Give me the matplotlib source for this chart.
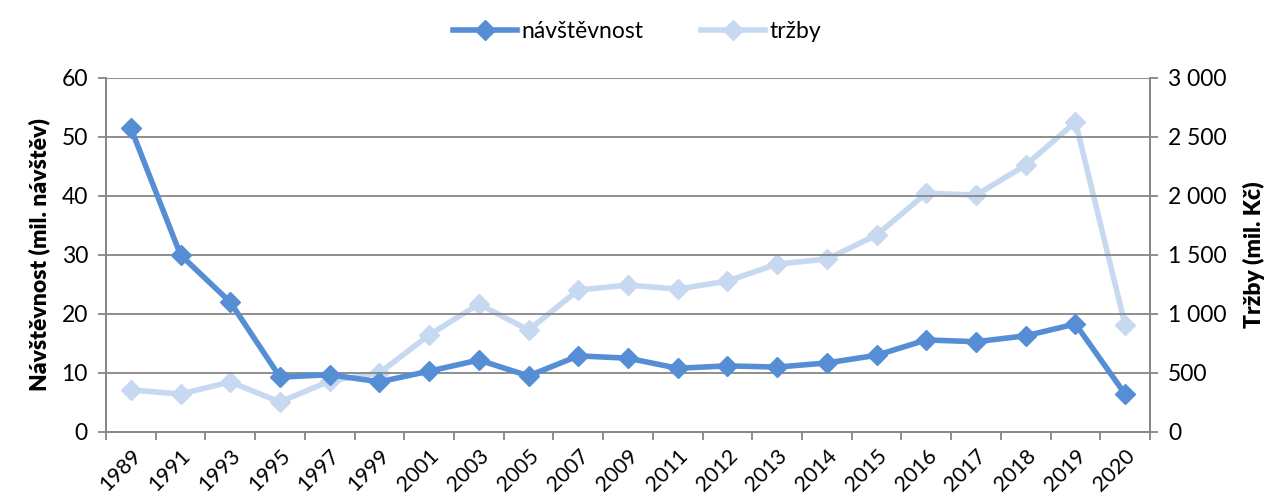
import matplotlib
matplotlib.use("Agg")
import matplotlib.pyplot as plt
from matplotlib.ticker import FuncFormatter, FixedLocator
import numpy as np

years = ["1989", "1991", "1993", "1995", "1997", "1999", "2001", "2003", "2005", "2007",
         "2009", "2011", "2012", "2013", "2014", "2015", "2016", "2017", "2018", "2019", "2020"]
navstevnost = [51.5, 30.0, 22.0, 9.3, 9.7, 8.5, 10.3, 12.2, 9.5, 12.9,
               12.5, 10.8, 11.2, 11.0, 11.7, 13.0, 15.6, 15.3, 16.3, 18.3, 6.4]
trzby = [356, 322, 424, 254, 432, 500, 822, 1084, 864, 1203,
         1245, 1211, 1279, 1423, 1465, 1669, 2024, 2007, 2262, 2626, 906]

plt.rcParams['font.family'] = ['Lato', 'DejaVu Sans']

dark = "#558ED5"
light = "#C6D9F1"
grid = "#868686"

fig = plt.figure(figsize=(12.74, 5.03), dpi=100)
ax = fig.add_axes([0.0832, 0.1412, 0.9027 - 0.0832, 0.845 - 0.1412])
ax2 = ax.twinx()

x = np.arange(len(years))
l2, = ax2.plot(x, trzby, color=light, lw=4, marker="D", ms=10, label="tržby", zorder=2)
l1, = ax.plot(x, navstevnost, color=dark, lw=4, marker="D", ms=10, label="návštěvnost", zorder=3)
ax.set_zorder(ax2.get_zorder() + 1)
ax.patch.set_visible(False)

ax.set_xlim(-0.5, len(years) - 0.5)
ax.set_ylim(0, 60)
ax2.set_ylim(0, 3000)
ax.set_yticks(np.arange(0, 61, 10))
ax2.set_yticks(np.arange(0, 3001, 500))
ax2.yaxis.set_major_formatter(FuncFormatter(lambda v, p: f"{int(v):,}".replace(",", " ")))

ax.grid(axis="y", color=grid, lw=1.3)
ax.set_axisbelow(True)

ax.set_xticks(x)
ax.set_xticklabels(years, rotation=45, ha="right", rotation_mode="anchor", fontsize=15.5)
ax.xaxis.set_minor_locator(FixedLocator(np.arange(-0.5, len(years), 1)))
ax.tick_params(axis="x", which="major", length=0, pad=10)
ax.tick_params(axis="x", which="minor", length=6, color=grid, width=1.3, direction="out")
ax.tick_params(axis="y", length=6, color=grid, width=1.3, labelsize=16.5, pad=7)
ax2.tick_params(axis="y", length=6, color=grid, width=1.3, labelsize=16.5, pad=7)

for a in (ax, ax2):
    a.spines["top"].set_visible(False)
    for s in ("left", "right", "bottom"):
        a.spines[s].set_color(grid)
        a.spines[s].set_linewidth(1.3)

ax.set_ylabel("Návštěvnost (mil. návštěv)", fontsize=16.5, fontweight="heavy", labelpad=8)
ax2.set_ylabel("Tržby (mil. Kč)", fontsize=16.5, fontweight="heavy", labelpad=12)

fig.legend([l1, l2], ["návštěvnost", "tržby"], loc="upper center", bbox_to_anchor=(0.5, 1.0),
           ncol=2, frameon=False, fontsize=16.5, handlelength=2.8, columnspacing=2.5,
           handletextpad=0.2)

fig.savefig("out.png", dpi=100)
